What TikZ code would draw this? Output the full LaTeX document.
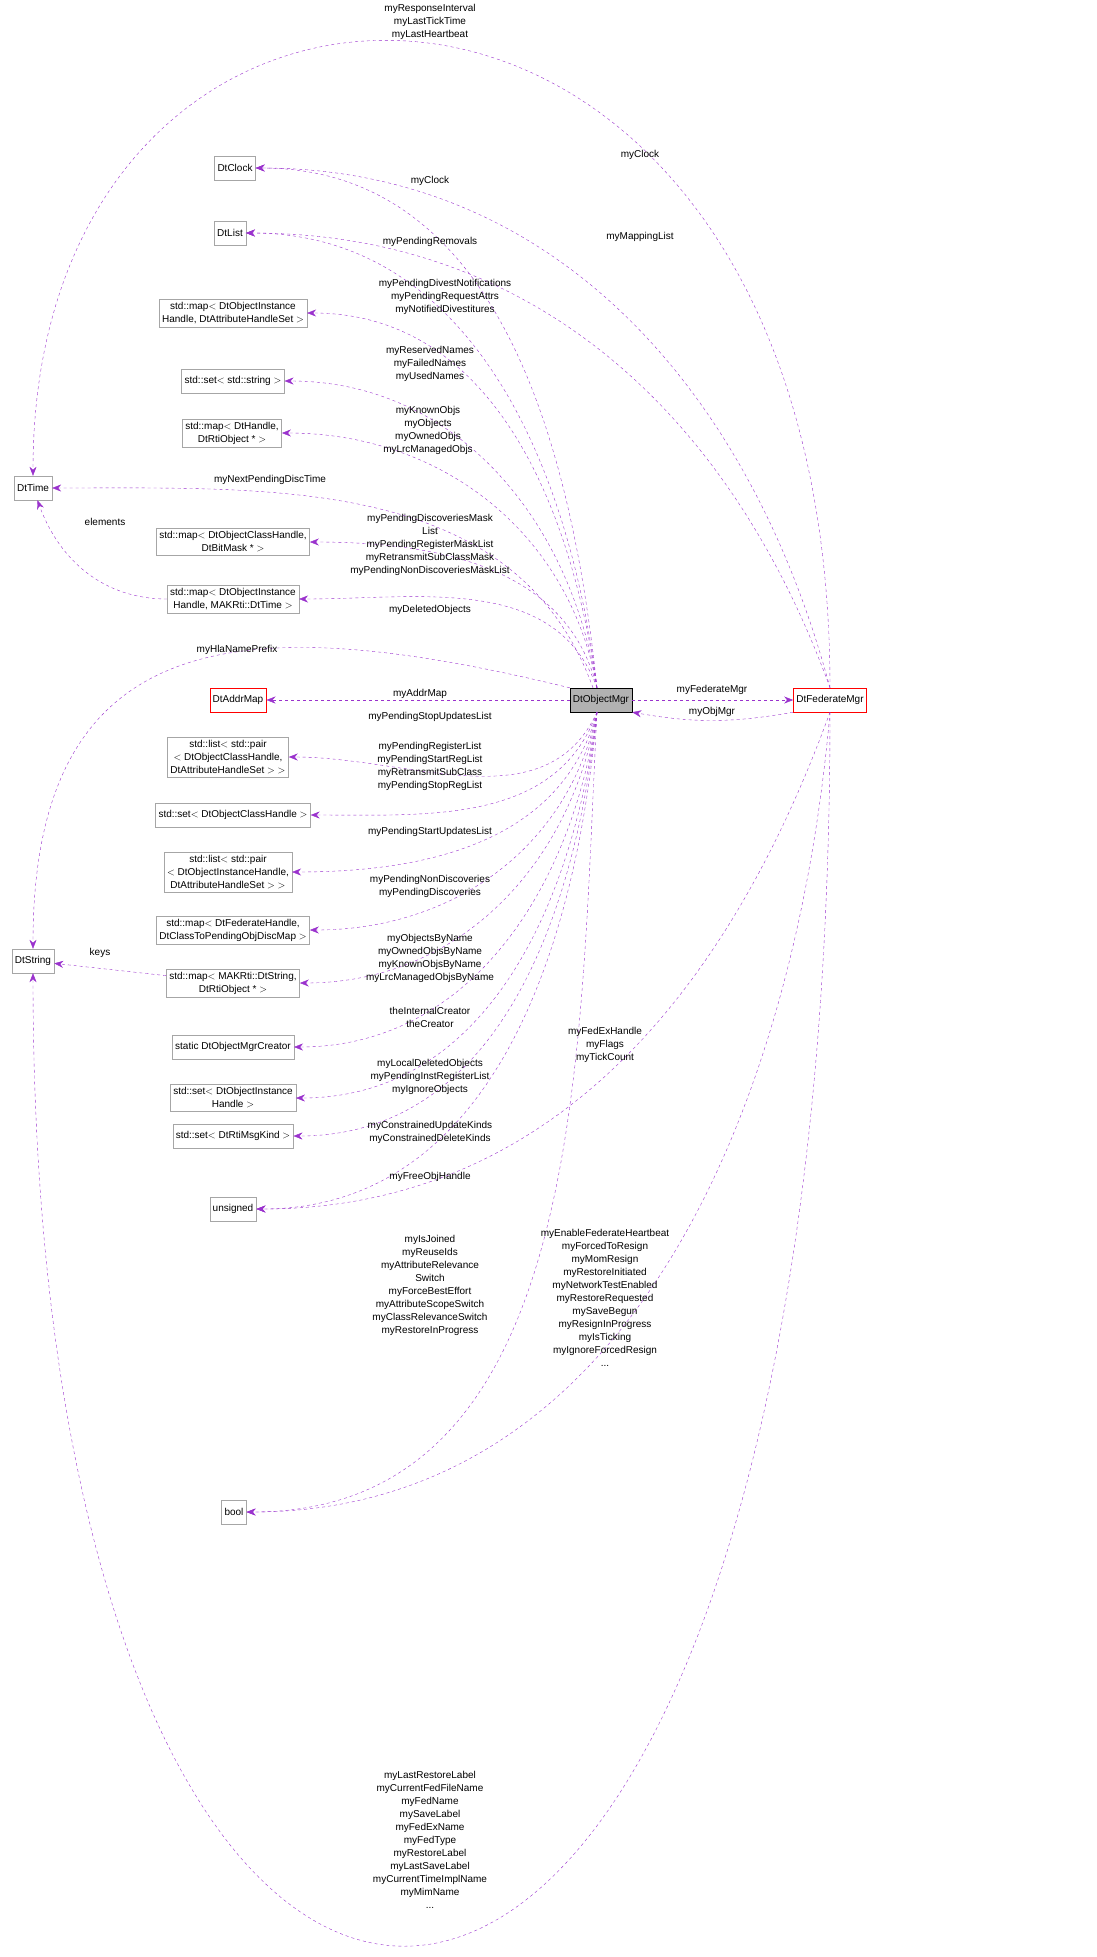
\documentclass[tikz,border=0pt]{standalone}
\usepackage{fontspec}
\setmainfont{Liberation Sans}
\usetikzlibrary{arrows.meta}
\definecolor{edgecol}{HTML}{9A32CD}
\tikzset{
	cls/.style={draw=black!35, fill=white, align=center, inner sep=3pt, minimum height=24pt, font=\fontsize{10}{13}\selectfont},
	dep/.style={draw=edgecol, dashed, -{Stealth[length=9pt,width=7pt]}},
	lbl/.style={align=center, inner sep=0pt, font=\fontsize{10}{13}\selectfont}
}
\begin{document}
\begin{tikzpicture}[x=1pt, y=-1pt]
	\useasboundingbox (0,0) rectangle (1096,1957);
	% Klassen links
	\node[cls] (clock) at (235,168) {DtClock};
	\node[cls] (list) at (230,233) {DtList};
	\node[cls] (divmap) at (233,313) {std::map$<$ DtObjectInstance\\Handle, DtAttributeHandleSet $>$};
	\node[cls] (strset) at (233,381) {std::set$<$ std::string $>$};
	\node[cls] (objmap) at (232,433) {std::map$<$ DtHandle,\\DtRtiObject * $>$};
	\node[cls] (time) at (33,488) {DtTime};
	\node[cls] (maskmap) at (233,542) {std::map$<$ DtObjectClassHandle,\\DtBitMask * $>$};
	\node[cls] (timemap) at (233,599) {std::map$<$ DtObjectInstance\\Handle, MAKRti::DtTime $>$};
	\node[cls, draw=red] (addr) at (238,700) {DtAddrMap};
	\node[cls] (stoplist) at (228,757) {std::list$<$ std::pair\\$<$ DtObjectClassHandle,\\DtAttributeHandleSet $>$ $>$};
	\node[cls] (regset) at (233,815) {std::set$<$ DtObjectClassHandle $>$};
	\node[cls] (startlist) at (228,872) {std::list$<$ std::pair\\$<$ DtObjectInstanceHandle,\\DtAttributeHandleSet $>$ $>$};
	\node[cls] (discmap) at (233,930) {std::map$<$ DtFederateHandle,\\DtClassToPendingObjDiscMap $>$};
	\node[cls] (string) at (33,961) {DtString};
	\node[cls] (namemap) at (233,983) {std::map$<$ MAKRti::DtString,\\DtRtiObject * $>$};
	\node[cls] (creator) at (233,1047) {static DtObjectMgrCreator};
	\node[cls] (instset) at (233,1098) {std::set$<$ DtObjectInstance\\Handle $>$};
	\node[cls] (kindset) at (233,1136) {std::set$<$ DtRtiMsgKind $>$};
	\node[cls] (unsig) at (233,1209) {unsigned};
	\node[cls] (bool) at (234,1512) {bool};
	% Hauptklassen
	\node[cls, draw=black, fill=black!30] (om) at (601,700) {DtObjectMgr};
	\node[cls, draw=red] (fm) at (830,700) {DtFederateMgr};

	% Kanten von DtObjectMgr nach oben
	\foreach \n/\o in {clock/96,list/97,divmap/98,strset/99,objmap/100,maskmap/104,timemap/110}
		\draw[dep] ([xshift=-4pt]om.north) to[out=\o,in=0] (\n.east);
	\draw[dep] ([xshift=-8pt]om.north) to[out=110,in=0] (time.east);
	\draw[dep] (om.north west) .. controls (250,610) and (33,620) .. (string.north);
	\draw[dep] (om) -- (addr);
	% Kanten von DtObjectMgr nach unten
	\foreach \n/\o in {stoplist/-115,regset/-110,startlist/-105,discmap/-102,namemap/-100,creator/-98,instset/-97,kindset/-96,unsig/-95,bool/-93}
		\draw[dep] ([xshift=-4pt]om.south) to[out=\o,in=0] (\n.east);
	\draw[dep] (timemap) to[out=180,in=-70] (time);
	\draw[dep] (namemap) -- (string);

	% Kanten von DtFederateMgr
	\draw[dep] (om.east) -- (fm.west);
	\draw[dep] (fm.south west) to[out=190,in=-10] (om.south east);
	\draw[dep] (fm.north) .. controls (830,-135) and (33,-135) .. (time.north);
	\draw[dep] (fm.north) to[out=105,in=0] (clock.east);
	\draw[dep] (fm.north) to[out=110,in=0] (list.east);
	\draw[dep] (fm.south) to[out=-110,in=0] (unsig.east);
	\draw[dep] (fm.south) to[out=-95,in=0] (bool.east);
	\draw[dep] (fm.south) .. controls (830,2310) and (33,2310) .. (string.south);

	% Beschriftungen
	\node[lbl] (l1) at (430,22) {myResponseInterval\\myLastTickTime\\myLastHeartbeat};
	\node[lbl] (l2) at (640,155) {myClock};
	\node[lbl] (l3) at (430,181) {myClock};
	\node[lbl] (l4) at (640,237) {myMappingList};
	\node[lbl] (l5) at (430,242) {myPendingRemovals};
	\node[lbl] (l6) at (445,297) {myPendingDivestNotifications\\myPendingRequestAttrs\\myNotifiedDivestitures};
	\node[lbl] (l7) at (430,364) {myReservedNames\\myFailedNames\\myUsedNames};
	\node[lbl] (l8) at (428,430) {myKnownObjs\\myObjects\\myOwnedObjs\\myLrcManagedObjs};
	\node[lbl] (l9) at (270,480) {myNextPendingDiscTime};
	\node[lbl] (l10) at (105,522) {elements};
	\node[lbl] (l11) at (430,545) {myPendingDiscoveriesMask\\List\\myPendingRegisterMaskList\\myRetransmitSubClassMask\\myPendingNonDiscoveriesMaskList};
	\node[lbl] (l12) at (430,610) {myDeletedObjects};
	\node[lbl] (l13) at (237,650) {myHlaNamePrefix};
	\node[lbl] (l14) at (420,694) {myAddrMap};
	\node[lbl] (l15) at (712,690) {myFederateMgr};
	\node[lbl] (l16) at (712,712) {myObjMgr};
	\node[lbl] (l17) at (430,717) {myPendingStopUpdatesList};
	\node[lbl] (l18) at (430,766) {myPendingRegisterList\\myPendingStartRegList\\myRetransmitSubClass\\myPendingStopRegList};
	\node[lbl] (l19) at (430,832) {myPendingStartUpdatesList};
	\node[lbl] (l20) at (430,886) {myPendingNonDiscoveries\\myPendingDiscoveries};
	\node[lbl] (l21) at (100,953) {keys};
	\node[lbl] (l22) at (430,958) {myObjectsByName\\myOwnedObjsByName\\myKnownObjsByName\\myLrcManagedObjsByName};
	\node[lbl] (l23) at (430,1017) {theInternalCreator\\theCreator};
	\node[lbl] (l24) at (605,1045) {myFedExHandle\\myFlags\\myTickCount};
	\node[lbl] (l25) at (430,1077) {myLocalDeletedObjects\\myPendingInstRegisterList\\myIgnoreObjects};
	\node[lbl] (l26) at (430,1132) {myConstrainedUpdateKinds\\myConstrainedDeleteKinds};
	\node[lbl] (l27) at (430,1177) {myFreeObjHandle};
	\node[lbl] (l28) at (430,1285) {myIsJoined\\myReuseIds\\myAttributeRelevance\\Switch\\myForceBestEffort\\myAttributeScopeSwitch\\myClassRelevanceSwitch\\myRestoreInProgress};
	\node[lbl] (l29) at (605,1298) {myEnableFederateHeartbeat\\myForcedToResign\\myMomResign\\myRestoreInitiated\\myNetworkTestEnabled\\myRestoreRequested\\mySaveBegun\\myResignInProgress\\myIsTicking\\myIgnoreForcedResign\\...};
	\node[lbl] (l30) at (430,1840) {myLastRestoreLabel\\myCurrentFedFileName\\myFedName\\mySaveLabel\\myFedExName\\myFedType\\myRestoreLabel\\myLastSaveLabel\\myCurrentTimeImplName\\myMimName\\...};
\end{tikzpicture}
\end{document}
